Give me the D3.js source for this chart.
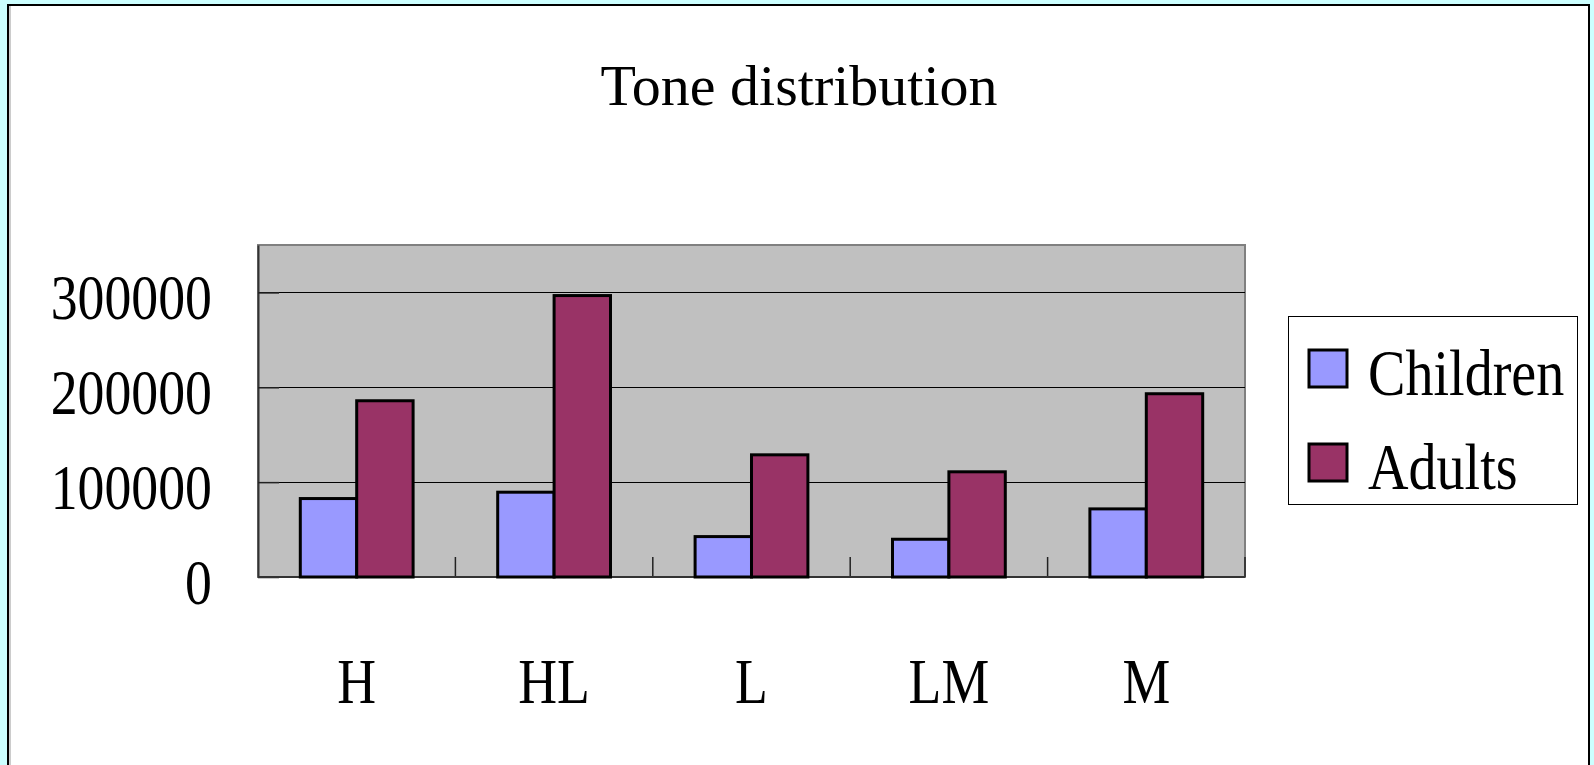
<!DOCTYPE html>
<html>
<head>
<meta charset="utf-8">
<script src="https://cdn.jsdelivr.net/npm/d3@7"></script>
<style>
  html, body { margin: 0; padding: 0; background: #CCFFFF; }
  svg { display: block; }
  text { font-family: "Liberation Serif", "Times New Roman", serif; fill: #000; }
</style>
</head>
<body>
<svg id="chart" width="1594" height="765"></svg>
<script>
const categories = ["H", "HL", "L", "LM", "M"];
const seriesNames = ["Children", "Adults"];
const children = [82700, 89400, 42600, 39800, 71800];
const adults = [185800, 296700, 128800, 110900, 193200];
const yTicks = [0, 100000, 200000, 300000];
const title = "Tone distribution";
const colors = ["#9999FF", "#993366"];

const svg = d3.select("#chart");

// outer white chart area
svg.append("rect").attr("x", 8).attr("y", 5).attr("width", 1581).attr("height", 775)
  .attr("fill", "#fff").attr("stroke", "#000").attr("stroke-width", 2);
svg.append("line").attr("x1", 10).attr("x2", 10).attr("y1", 6).attr("y2", 765)
  .attr("stroke", "#999").attr("stroke-width", 1);

const plot = { left: 258, right: 1245, top: 245, bottom: 577 };

const x0 = d3.scaleBand().domain(categories).range([plot.left, plot.right]).padding(0);
const bw = x0.bandwidth();
const barW = bw / 3.5;
const x1 = d3.scaleBand().domain(seriesNames).range([barW * 0.75, bw - barW * 0.75]).padding(0);
const y = d3.scaleLinear().domain([0, 350000]).range([plot.bottom, plot.top]);

// plot background
svg.append("rect").attr("x", plot.left).attr("y", plot.top)
  .attr("width", plot.right - plot.left).attr("height", plot.bottom - plot.top)
  .attr("fill", "#C0C0C0").attr("stroke", "#808080").attr("stroke-width", 2);

// gridlines
svg.append("g").selectAll("line").data(yTicks.filter(d => d > 0)).join("line")
  .attr("x1", plot.left).attr("x2", plot.right)
  .attr("y1", d => Math.round(y(d)) + 0.5).attr("y2", d => Math.round(y(d)) + 0.5)
  .attr("stroke", "#000").attr("stroke-width", 1);

// y axis (ticks inside)
const yAxis = d3.axisRight(y).tickValues(yTicks).tickSize(21).tickSizeOuter(0).tickFormat("");
const gy = svg.append("g").attr("transform", `translate(${plot.left},0)`).call(yAxis);
gy.select(".domain").attr("stroke", "#333").attr("stroke-width", 2);
gy.selectAll(".tick line").attr("stroke", "#222").attr("stroke-width", 1.5);

// y labels
svg.append("g").selectAll("text").data(yTicks).join("text")
  .attr("transform", d => `translate(212,${y(d) + 27}) scale(0.84,1)`)
  .attr("text-anchor", "end").attr("font-size", 64)
  .text(d => d);

// x axis
const boundaries = categories.map(c => x0(c)).concat([plot.right]);
svg.append("g").selectAll("line").data(boundaries.slice(1)).join("line")
  .attr("x1", d => d).attr("x2", d => d)
  .attr("y1", plot.bottom - 20).attr("y2", plot.bottom)
  .attr("stroke", "#222").attr("stroke-width", 1.5);
svg.append("line").attr("x1", plot.left).attr("x2", plot.right)
  .attr("y1", plot.bottom).attr("y2", plot.bottom)
  .attr("stroke", "#333").attr("stroke-width", 2);

svg.append("g").selectAll("text").data(categories).join("text")
  .attr("transform", d => `translate(${x0(d) + bw / 2},703) scale(0.84,1)`)
  .attr("text-anchor", "middle").attr("font-size", 64)
  .text(d => d);

// bars
const data = categories.map((c, i) => ({ cat: c, vals: [children[i], adults[i]] }));
const groups = svg.append("g").selectAll("g").data(data).join("g")
  .attr("transform", d => `translate(${x0(d.cat)},0)`);
groups.selectAll("rect").data(d => d.vals.map((v, j) => ({ name: seriesNames[j], v, j }))).join("rect")
  .attr("x", d => x1(d.name))
  .attr("y", d => y(d.v))
  .attr("width", x1.bandwidth())
  .attr("height", d => y(0) - y(d.v))
  .attr("fill", d => colors[d.j])
  .attr("stroke", "#000").attr("stroke-width", 3);

// title
svg.append("text").attr("x", 799).attr("y", 105).attr("text-anchor", "middle")
  .attr("font-size", 58).text(title);

// legend
const lg = svg.append("g");
lg.append("rect").attr("x", 1288.5).attr("y", 316.5).attr("width", 289).attr("height", 188)
  .attr("fill", "#fff").attr("stroke", "#000").attr("stroke-width", 1);
const legendY = [350, 444];
seriesNames.forEach((n, i) => {
  lg.append("rect").attr("x", 1309).attr("y", legendY[i]).attr("width", 38).attr("height", 37)
    .attr("fill", colors[i]).attr("stroke", "#000").attr("stroke-width", 3);
  lg.append("text").attr("transform", `translate(1368,${legendY[i] + 45}) scale(0.85,1)`)
    .attr("font-size", 66).text(n);
});
</script>
</body>
</html>
